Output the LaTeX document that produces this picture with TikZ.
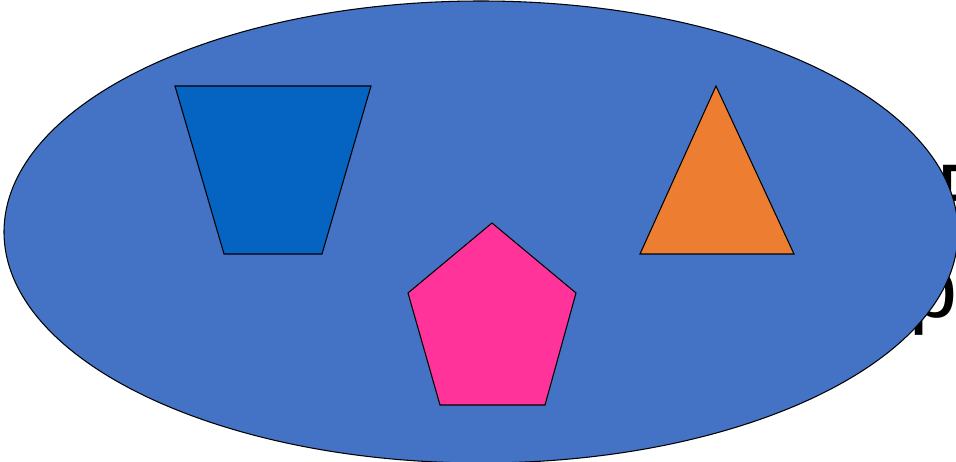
\documentclass[tikz,border=0pt]{standalone}
\usepackage{fontspec}
\setmainfont{Liberation Sans}
\usetikzlibrary{positioning}
\definecolor{OvalBlue}{HTML}{4472C4}
\definecolor{TrapBlue}{HTML}{0563C1}
\definecolor{PentPink}{HTML}{FF3399}
\definecolor{TriOrange}{HTML}{ED7D31}

\begin{document}
\begin{tikzpicture}[x=0.02cm,y=-0.02cm]
    \tikzset{outlined/.style={draw=black,line width=0.6pt,line join=miter},
      bigtext/.style={anchor=base west,inner sep=0pt,font=\fontsize{49}{46}\selectfont}}
    \useasboundingbox (0,0) rectangle (956,462);
    \clip (0,0) rectangle (956,462);
    % text lying behind the oval
    \node[bigtext] (hidtop) at (936,225) {P};
    \node[bigtext] (hidbot) at (909,317) {p};
    \filldraw[outlined,fill=OvalBlue] (481,232) ellipse [x radius=477,y radius=231];
    \filldraw[outlined,fill=TrapBlue] (175,86) -- (371,86) -- (322,254) -- (224,254) -- cycle;
    \filldraw[outlined,fill=PentPink] (492,223) -- (576,293) -- (545,405) -- (440,405) -- (408,293) -- cycle;
    \filldraw[outlined,fill=TriOrange] (716,86) -- (794,254) -- (640,254) -- cycle;
  \end{tikzpicture}
\end{document}
